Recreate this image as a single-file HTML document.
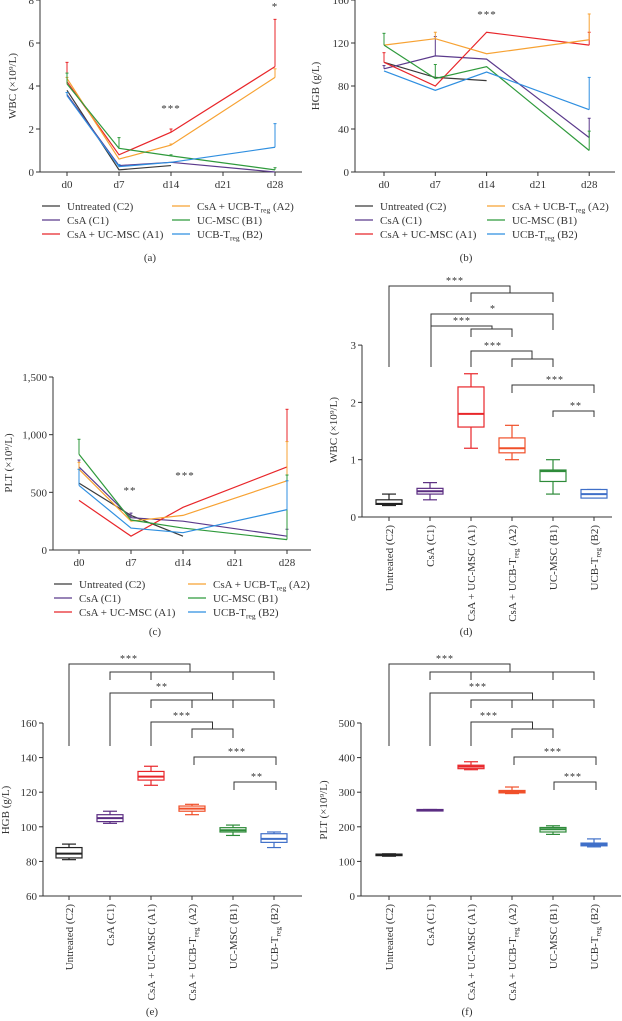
<!DOCTYPE html>
<html><head><meta charset="utf-8"><style>
html,body{margin:0;padding:0;background:#fff;}
svg{display:block;font-family:"Liberation Serif",serif;}
</style></head><body>
<svg id="fig" width="622" height="1021" viewBox="0 0 622 1021" xmlns="http://www.w3.org/2000/svg"></svg>
<script>
const days = ["d0","d7","d14","d21","d28"];
const groupNames = ["Untreated (C2)","CsA (C1)","CsA + UC-MSC (A1)","CsA + UCB-T|reg| (A2)","UC-MSC (B1)","UCB-T|reg| (B2)"];
const lineColors = ["#3a3a3a","#5b3a8c","#e8262a","#f7a233","#2f9a3c","#2f8fe0"];
const boxColors = ["#222222","#5b2d82","#e8262a","#f0502a","#2e8b3a","#3f6fc8"];

const wbcC2 = [3.8,0.1,0.3,null,null];
const wbcC1 = [3.6,0.3,0.45,null,0.0];
const wbcA1 = [4.2,0.8,1.85,null,4.9];
const wbcA2 = [4.35,0.6,1.25,null,4.4];
const wbcB1 = [4.1,1.1,0.75,null,0.1];
const wbcB2 = [3.55,0.25,0.45,null,1.15];
const wbcErrA1 = [5.1,null,2.0,null,7.1];
const wbcErrA2 = [4.4,null,1.3,null,4.8];
const wbcErrB1 = [4.6,1.6,0.8,null,0.2];
const wbcErrB2 = [3.7,0.35,null,null,2.25];
const wbcTicks = [0,2,4,6,8];

const hgbC2 = [102,88,85,null,null];
const hgbC1 = [96,108,105,null,32];
const hgbA1 = [102,80,130,null,118];
const hgbA2 = [118,124,110,null,123];
const hgbB1 = [118,87,98,null,20];
const hgbB2 = [94,76,93,null,58];
const hgbErrC1 = [99,126,null,null,50];
const hgbErrA1 = [111,null,null,null,130];
const hgbErrA2 = [null,130,null,null,147];
const hgbErrB1 = [129,100,null,null,38];
const hgbErrB2 = [null,null,null,null,88];
const hgbTicks = [0,40,80,120,160];

const pltC2 = [580,300,120,null,null];
const pltC1 = [720,280,250,null,120];
const pltA1 = [430,120,370,null,720];
const pltA2 = [700,250,300,null,600];
const pltB1 = [830,260,190,null,90];
const pltB2 = [560,190,150,null,350];
const pltErrC1 = [780,320,null,null,180];
const pltErrA1 = [null,null,null,null,1220];
const pltErrA2 = [760,null,null,null,940];
const pltErrB1 = [960,null,null,null,650];
const pltErrB2 = [700,null,null,null,600];
const pltTicks = [0,500,1000,1500];
const pltTickLabels = ["0","500","1,000","1,500"];

const dLo = [0.2,0.3,1.2,1.0,0.4,0.35];
const dQ1 = [0.22,0.4,1.57,1.12,0.62,0.33];
const dMed = [0.23,0.45,1.8,1.2,0.8,0.4];
const dQ3 = [0.3,0.5,2.27,1.38,0.82,0.48];
const dHi = [0.4,0.6,2.5,1.6,1.0,0.48];
const dTicks = [0,1,2,3];

const eLo = [81,102,124,107,95,88];
const eQ1 = [82,103,127,109,97,91];
const eMed = [84.5,105,129,110.5,98,93];
const eQ3 = [88,107,132,112,99.5,96];
const eHi = [90,109,135,113,101,97];
const eTicks = [60,80,100,120,140,160];

const fLo = [115,246,365,296,178,142];
const fQ1 = [119,247,368,298,185,145];
const fMed = [120,248,374,302,193,149];
const fQ3 = [121,250,378,305,198,153];
const fHi = [122,250,388,315,203,165];
const fTicks = [0,100,200,300,400,500];

const NS = "http://www.w3.org/2000/svg";
const fig = document.getElementById("fig");
function mk(tag, attrs, parent){
  const e = document.createElementNS(NS, tag);
  for (const k in attrs) e.setAttribute(k, attrs[k]);
  (parent||fig).appendChild(e);
  return e;
}
function addLabel(t, parent){
  const parts = t.split("|");
  parts.forEach((p,i)=>{
    if(!p) return;
    const ts = mk("tspan", i%2 ? {"font-size":"7.5","dy":"2.5"} : (i>0?{"dy":"-2.5"}:{}), parent);
    ts.textContent = p;
  });
}
function line(x1,y1,x2,y2,g,c,w){ return mk("line",{x1,y1,x2,y2,stroke:c||"#333","stroke-width":w||1},g); }
function txt(x,y,s,g,o){
  const t = mk("text",Object.assign({x,y,"font-size":11,fill:"#333","text-anchor":"middle"},o||{}),g);
  addLabel(s,t); return t;
}

function lineChart(name, cfg){
  const g = mk("g",{});
  
  
  const ys = v => cfg.y0 - (v - cfg.vmin) * cfg.k;
  const xs = i => cfg.x0 + i * cfg.dx;
  const ax = line(cfg.ax, cfg.yTop, cfg.ax, cfg.y0, g, "#333");
  
  
  const xa = line(cfg.ax, cfg.y0, cfg.axEnd, cfg.y0, g, "#333");
  
  
  cfg.ticks.forEach((v,i)=>{
    line(cfg.ax-4, ys(v), cfg.ax, ys(v), g);
    const t = txt(cfg.ax-6, ys(v)+4, cfg.tickLabels ? cfg.tickLabels[i] : String(v), g, {"text-anchor":"end"});
    
    
  });
  days.forEach((d,i)=>{
    line(xs(i), cfg.y0, xs(i), cfg.y0+4, g);
    const t = txt(xs(i), cfg.y0+16, d, g);
    
    
  });
  const yt = txt(0,0,cfg.ytitle,g,{transform:`translate(${cfg.ytx},${cfg.yty}) rotate(-90)`});
  
  
  cfg.series.forEach((s,si)=>{
    const pts = [];
    s.forEach((v,i)=>{ if(v!==null) pts.push(xs(i)+","+ys(v)); });
    const pl = mk("polyline",{points:pts.join(" "),fill:"none",stroke:lineColors[si],"stroke-width":1.2},g);
    
    
    const err = cfg.errs[si];
    if(err) err.forEach((e,i)=>{
      if(e===null || s[i]===null) return;
      line(xs(i), ys(s[i]), xs(i), ys(e), g, lineColors[si], 1);
      line(xs(i)-1.5, ys(e), xs(i)+1.5, ys(e), g, lineColors[si], 1);
    });
  });
  cfg.stars.forEach(s=>{
    const t = txt(s[0], s[1], s[2], g, {"font-size":11,"letter-spacing":"1"});
    
    
  });
  [0,1,2,3,4,5].forEach(i=>{
    const col = i<3?0:1, row = i%3;
    const lx = cfg.legX[col], ly = cfg.legY + row*14;
    const lg = mk("g",{},g);
    
    
    line(lx, ly, lx+18, ly, lg, lineColors[i], 1.2);
    txt(lx+25, ly+4, groupNames[i], lg, {"text-anchor":"start"});
  });
  const pl = txt(cfg.plx, cfg.ply, cfg.panel, g);
  
  
}

function boxChart(name, cfg){
  const g = mk("g",{});
  
  
  const ys = v => cfg.y0 - (v - cfg.vmin) * cfg.k;
  const xs = i => cfg.x0 + i * cfg.dx;
  const ax = line(cfg.ax, ys(cfg.ticks[cfg.ticks.length-1]), cfg.ax, cfg.y0, g);
  
  
  const xa = line(cfg.ax, cfg.y0, cfg.axEnd, cfg.y0, g);
  
  
  cfg.ticks.forEach(v=>{
    line(cfg.ax-4, ys(v), cfg.ax, ys(v), g);
    const t = txt(cfg.ax-6, ys(v)+4, String(v), g, {"text-anchor":"end"});
    
    
  });
  const yt = txt(0,0,cfg.ytitle,g,{transform:`translate(${cfg.ytx},${cfg.yty}) rotate(-90)`});
  
  
  groupNames.forEach((n,i)=>{
    const x = xs(i);
    line(x, cfg.y0, x, cfg.y0+4, g);
    const t = txt(0,0,n,g,{"text-anchor":"end",transform:`translate(${x+4},${cfg.y0+8}) rotate(-90)`});
    
    
    const c = boxColors[i], hw = 13;
    const bg = mk("g",{},g);
    
    
    line(x, ys(cfg.hi[i]), x, ys(cfg.lo[i]), bg, c, 1.2);
    line(x-7, ys(cfg.hi[i]), x+7, ys(cfg.hi[i]), bg, c, 1.2);
    line(x-7, ys(cfg.lo[i]), x+7, ys(cfg.lo[i]), bg, c, 1.2);
    const top = ys(cfg.q3[i]), bot = ys(cfg.q1[i]);
    mk("rect",{x:x-hw,y:Math.min(top,bot),width:hw*2,height:Math.max(Math.abs(bot-top),1.5),fill:"#fff",stroke:c,"stroke-width":1.2},bg);
    line(x-hw, ys(cfg.med[i]), x+hw, ys(cfg.med[i]), bg, c, 2);
  });
  cfg.brackets.forEach(b=>{
    const p = mk("polyline",{points:b.map(q=>q.join(",")).join(" "),fill:"none",stroke:"#333","stroke-width":1},g);
    
    
  });
  cfg.stars.forEach(s=>{
    const t = txt(s[0], s[1], s[2], g, {"font-size":10,"letter-spacing":"1"});
    
    
  });
  const pl = txt(cfg.plx, cfg.ply, cfg.panel, g);
  
  
}

lineChart("chart-a-wbc",{ax:40,axEnd:302,yTop:0,y0:172,vmin:0,k:21.5,x0:67,dx:52,ticks:wbcTicks,
  ytitle:"WBC (×10⁹/L)",ytx:16,yty:86,
  series:[wbcC2,wbcC1,wbcA1,wbcA2,wbcB1,wbcB2],errs:[null,null,wbcErrA1,wbcErrA2,wbcErrB1,wbcErrB2],
  stars:[[171,112,"***"],[275,10,"*"]],legX:[42,172],legY:206,plx:150,ply:261,panel:"(a)"});
lineChart("chart-b-hgb",{ax:355,axEnd:615,yTop:0,y0:172,vmin:0,k:172/160,x0:384,dx:51.3,ticks:hgbTicks,
  ytitle:"HGB (g/L)",ytx:319,yty:86,
  series:[hgbC2,hgbC1,hgbA1,hgbA2,hgbB1,hgbB2],errs:[null,hgbErrC1,hgbErrA1,hgbErrA2,hgbErrB1,hgbErrB2],
  stars:[[487,18,"***"]],legX:[355,487],legY:206,plx:466,ply:261,panel:"(b)"});
lineChart("chart-c-plt",{ax:53,axEnd:311,yTop:377,y0:550,vmin:0,k:173/1500,x0:79,dx:52,ticks:pltTicks,tickLabels:pltTickLabels,
  ytitle:"PLT (×10⁹/L)",ytx:12,yty:463,
  series:[pltC2,pltC1,pltA1,pltA2,pltB1,pltB2],errs:[null,pltErrC1,pltErrA1,pltErrA2,pltErrB1,pltErrB2],
  stars:[[130,494,"**"],[185,479,"***"]],legX:[54,188],legY:584,plx:155,ply:635,panel:"(c)"});

boxChart("chart-d-wbc-box",{ax:362,axEnd:612,y0:517,vmin:0,k:57.3,x0:389,dx:41,ticks:dTicks,lo:dLo,q1:dQ1,med:dMed,q3:dQ3,hi:dHi,
  ytitle:"WBC (×10⁹/L)",ytx:337,yty:430,
  brackets:[
    [[389,367],[389,286],[510,286],[510,293]],
    [[471,302],[471,293],[553,293],[553,302]],
    [[431,367],[431,314],[553,314],[553,330]],
    [[431,367],[431,326],[492,326],[492,329]],
    [[471,337],[471,329],[512,329],[512,337]],
    [[471,367],[471,351],[532,351],[532,359]],
    [[512,367],[512,359],[553,359],[553,367]],
    [[512,393],[512,385],[594,385],[594,393]],
    [[553,417],[553,411],[594,411],[594,417]]],
  stars:[[455,284,"***"],[493,312,"*"],[462,324,"***"],[493,349,"***"],[555,383,"***"],[576,409,"**"]],
  plx:466,ply:635,panel:"(d)"});

function fullBrackets(xsArr){
  return [
    [[xsArr[0],746],[xsArr[0],664],[xsArr[3]-2,664],[xsArr[3]-2,672]],
    [[xsArr[1],680],[xsArr[1],672],[xsArr[5],672],[xsArr[5],680]],
    [[xsArr[2],672],[xsArr[2],680]],[[xsArr[4],672],[xsArr[4],680]],
    [[xsArr[1],746],[xsArr[1],693],[(xsArr[3]+xsArr[4])/2,693],[(xsArr[3]+xsArr[4])/2,700]],
    [[xsArr[2],708],[xsArr[2],700],[xsArr[5],700],[xsArr[5],708]],
    [[xsArr[3],700],[xsArr[3],708]],[[xsArr[4],700],[xsArr[4],708]],
    [[xsArr[2],746],[xsArr[2],722],[(xsArr[3]+xsArr[4])/2,722],[(xsArr[3]+xsArr[4])/2,729]],
    [[xsArr[3],738],[xsArr[3],729],[xsArr[4],729],[xsArr[4],738]],
    [[xsArr[3]+2,765],[xsArr[3]+2,757],[xsArr[5]+2,757],[xsArr[5]+2,765]],
    [[xsArr[4]+1,790],[xsArr[4]+1,782],[xsArr[5]+2,782],[xsArr[5]+2,790]]];
}
const eX=[69,110,151,192,233,274], fX=[389,430,471,512,553,594];
boxChart("chart-e-hgb-box",{ax:43,axEnd:302,y0:896,vmin:60,k:173/100,x0:69,dx:41,ticks:eTicks,lo:eLo,q1:eQ1,med:eMed,q3:eQ3,hi:eHi,
  ytitle:"HGB (g/L)",ytx:9,yty:810,brackets:fullBrackets(eX),
  stars:[[129,662,"***"],[162,690,"**"],[182,719,"***"],[237,755,"***"],[257,780,"**"]],
  plx:152,ply:1015,panel:"(e)"});
boxChart("chart-f-plt-box",{ax:361,axEnd:621,y0:896,vmin:0,k:173/500,x0:389,dx:41,ticks:fTicks,lo:fLo,q1:fQ1,med:fMed,q3:fQ3,hi:fHi,
  ytitle:"PLT (×10⁹/L)",ytx:327,yty:810,brackets:fullBrackets(fX),
  stars:[[445,662,"***"],[478,690,"***"],[489,719,"***"],[553,755,"***"],[573,780,"***"]],
  plx:467,ply:1015,panel:"(f)"});
</script>
</body></html>
